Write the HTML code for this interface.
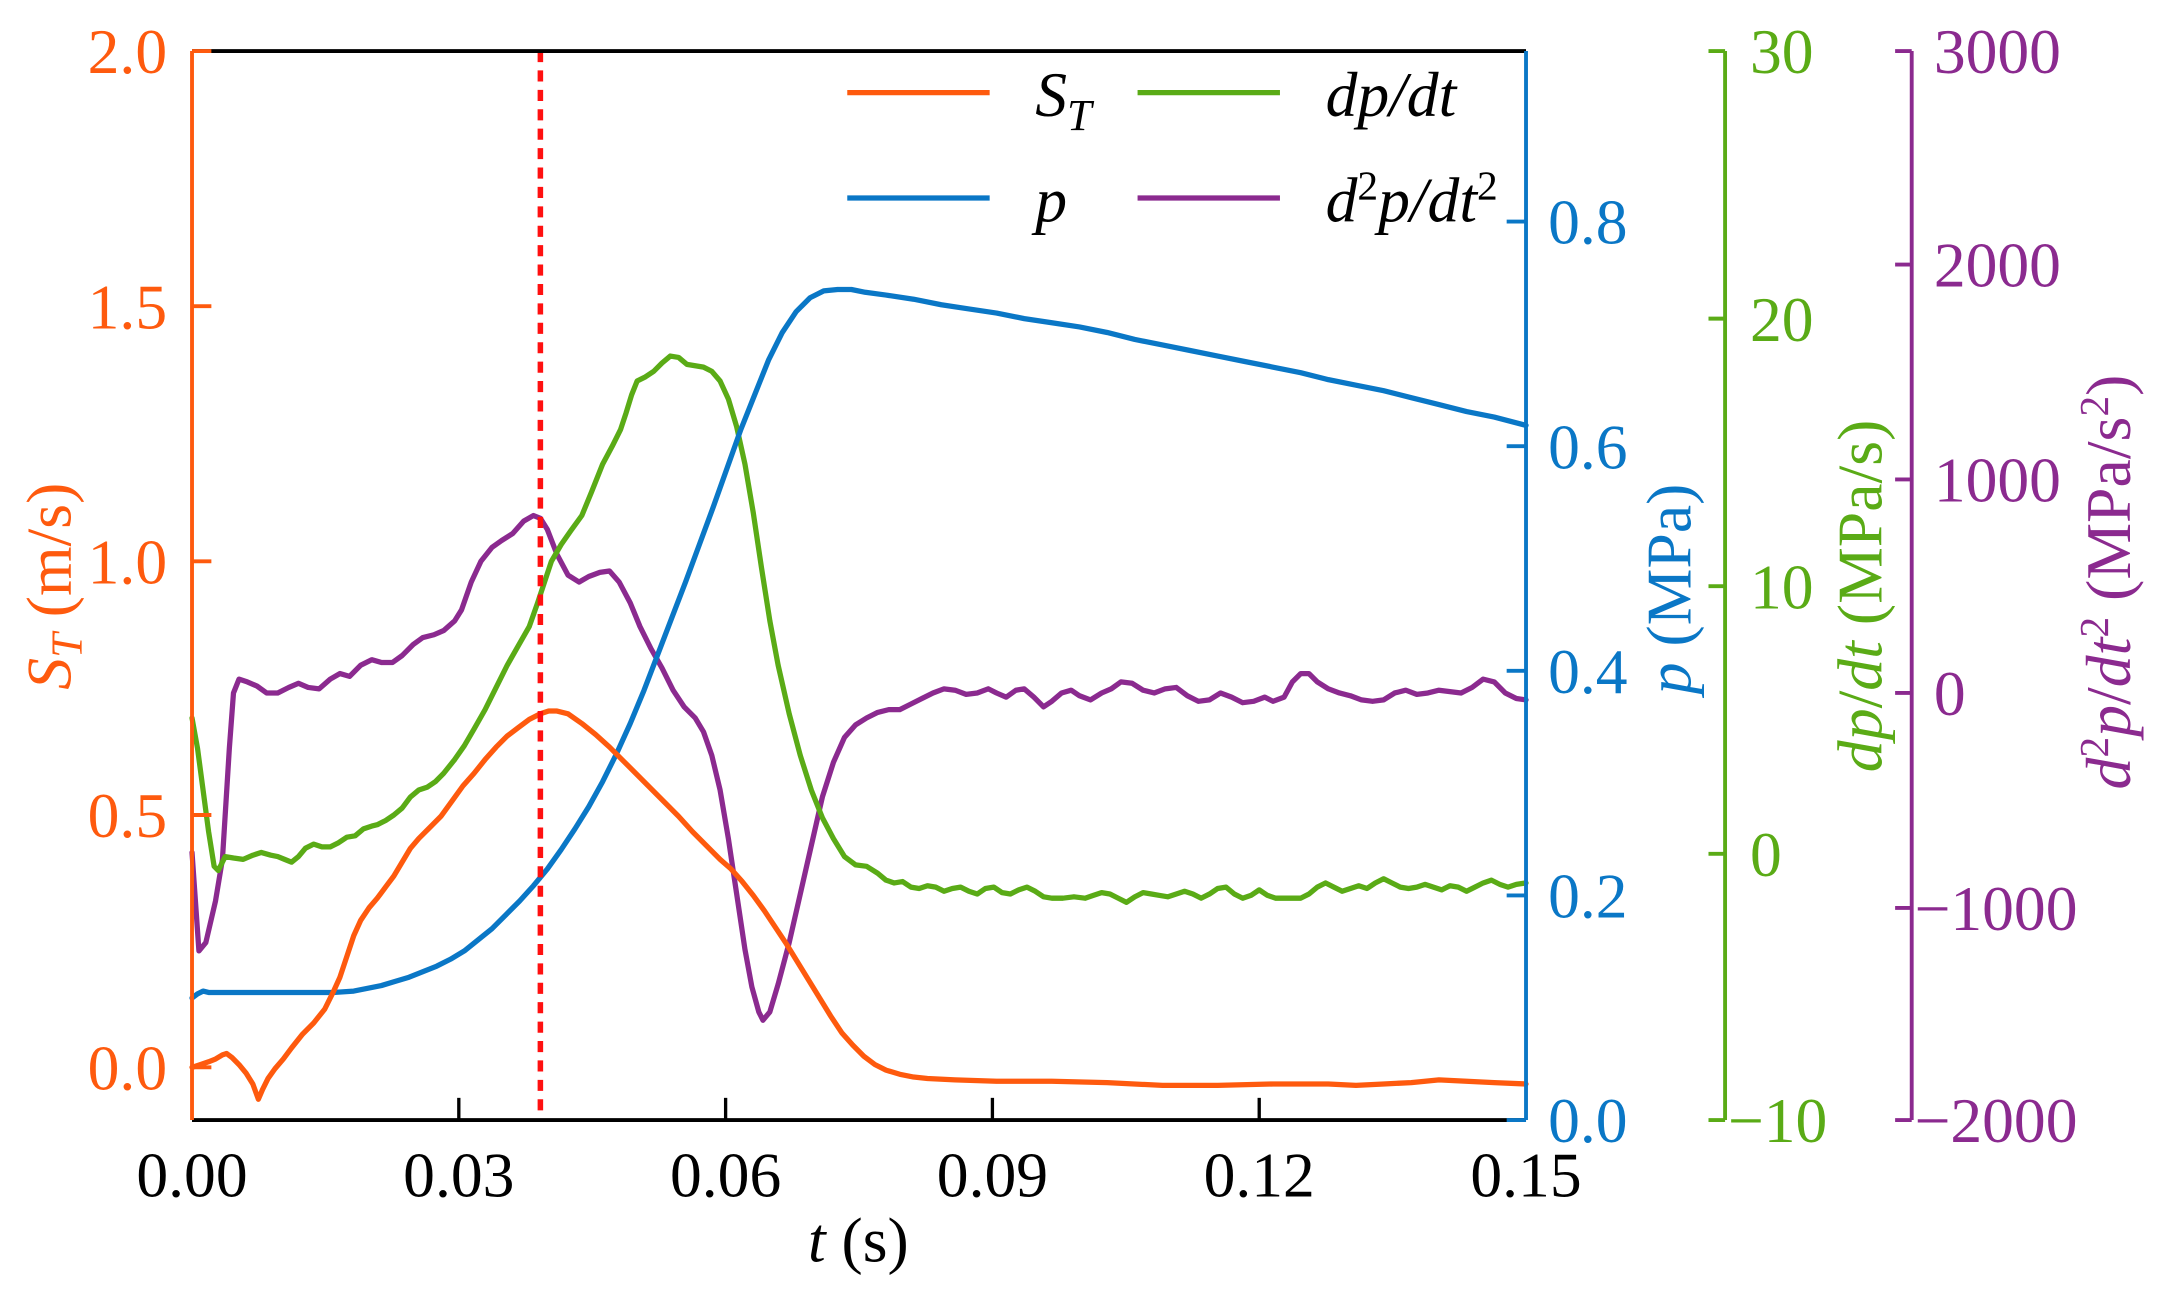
<!DOCTYPE html>
<html><head><meta charset="utf-8"><style>
html,body{margin:0;padding:0;background:#fff;}
svg{display:block;}
svg text{font-family:"Liberation Serif","Times New Roman",serif !important;}
</style></head><body>
<svg width="2168" height="1291" viewBox="-0.9 0.2 1568.3 931.1" preserveAspectRatio="none" xmlns="http://www.w3.org/2000/svg" font-family="Liberation Serif, serif">
<g fill="none" stroke-width="3.8" stroke-linejoin="round" stroke-linecap="round">
<polyline stroke="#8b2a8f" points="138,615 143,686 148,680 155,650 160,620 165,540 168,500 172,490 178,492 185,495 192,500 200,500 208,496 215,493 222,496 230,497 238,490 245,486 252,488 260,480 268,476 275,478 283,478 290,473 298,465 305,460 313,458 320,455 328,448 333,440 340,420 347,405 355,395 362,390 370,385 378,376 385,372 390,374 395,382 402,400 410,415 418,420 425,416 433,413 440,412 447,420 455,435 462,452 470,468 478,482 486,498 494,510 502,518 508,528 514,545 520,570 526,605 532,645 538,685 543,712 548,730 551,736 556,730 562,710 570,680 578,645 586,610 594,575 602,550 610,532 618,523 626,518 634,514 642,512 650,512 658,508 666,504 674,500 682,497 690,498 698,501 706,500 714,497 720,500 727,503 734,498 740,497 747,503 754,510 760,506 767,500 774,498 780,502 788,505 796,500 803,497 810,492 818,493 826,498 834,500 842,497 850,496 858,502 866,506 874,505 882,500 890,503 898,507 906,506 914,503 920,506 928,503 934,492 940,486 946,486 952,492 960,497 968,500 976,502 984,505 992,506 1000,505 1008,500 1016,498 1024,501 1032,500 1040,498 1048,499 1056,500 1064,496 1072,490 1080,492 1088,500 1096,504 1103,505"/>
<polyline stroke="#5aab16" points="138,518 142,540 146,570 150,600 154,625 157,628 162,618 168,619 175,620 182,617 188,615 195,617 200,618 205,620 210,622 215,618 220,612 226,609 232,611 238,611 244,608 250,604 256,603 262,598 268,596 272,595 278,592 284,588 290,583 296,575 302,570 308,568 314,564 320,558 328,548 335,538 342,526 350,512 358,496 366,480 374,466 382,452 388,435 393,420 398,405 405,393 412,383 420,372 427,355 435,335 442,322 448,310 452,298 456,285 460,275 466,272 472,268 478,262 484,257 490,258 496,263 502,264 508,265 514,268 520,275 526,288 532,308 538,335 544,370 550,410 556,448 562,480 570,515 578,545 586,570 594,590 602,605 610,618 618,624 626,625 634,630 640,635 646,637 652,636 658,640 664,641 670,639 676,640 682,643 688,641 694,640 700,643 706,645 712,641 718,640 724,644 730,645 736,642 742,640 748,643 754,647 760,648 768,648 776,647 784,648 790,646 796,644 802,645 808,648 814,651 820,647 826,644 832,645 838,646 844,647 850,645 856,643 862,645 868,648 874,645 880,641 886,640 892,645 898,648 904,646 910,642 916,646 922,648 928,648 934,648 940,648 946,645 952,640 958,637 964,640 970,643 976,641 982,639 988,641 994,637 1000,634 1006,637 1012,640 1018,641 1024,640 1030,638 1036,640 1042,642 1048,639 1054,640 1060,643 1066,640 1072,637 1078,635 1084,638 1090,640 1096,638 1103,637"/>
<polyline stroke="#0a77c6" points="138,720 142,717 146,715 150,716 160,716 180,716 200,716 220,716 240,716 255,715 265,713 275,711 285,708 295,705 305,701 315,697 325,692 335,686 345,678 355,670 365,660 375,650 385,639 395,627 405,613 415,598 425,582 435,564 445,544 455,522 465,498 475,472 485,446 495,420 505,393 515,366 525,338 535,310 545,285 555,260 565,240 575,225 585,215 595,210 605,209 615,209 625,211 640,213 660,216 680,220 700,223 720,226 740,230 760,233 780,236 800,240 820,245 840,249 860,253 880,257 900,261 920,265 940,269 960,274 980,278 1000,282 1020,287 1040,292 1060,297 1080,301 1103,307"/>
<polyline stroke="#fe5a0e" points="138,770 144,768 150,766 155,764 160,761 163,760 167,763 172,768 177,774 182,782 186,793 189,786 193,778 198,771 204,764 210,756 218,746 226,738 234,728 240,716 245,705 250,690 255,675 260,664 266,655 272,648 278,640 284,632 290,622 296,612 302,605 310,597 318,589 326,578 334,567 342,558 350,548 358,539 366,531 374,525 382,519 390,515 396,513 402,513 410,515 420,522 430,530 440,539 450,549 460,559 470,569 480,579 490,589 500,600 510,610 520,620 528,627 536,636 544,646 552,657 560,669 568,681 576,694 584,707 592,720 600,733 608,745 616,754 624,762 632,768 640,772 650,775 660,777 670,778 690,779 720,780 760,780 800,781 840,783 880,783 920,782 960,782 980,783 1000,782 1020,781 1040,779 1060,780 1080,781 1103,782"/>
</g>
<line x1="390" y1="37" x2="390" y2="808" stroke="#ff1010" stroke-width="4" stroke-dasharray="8,6"/>
<line x1="138" y1="37" x2="1103" y2="37" stroke="#000" stroke-width="2.8"/>
<line x1="138" y1="808" x2="1103" y2="808" stroke="#000" stroke-width="2.8"/>
<g stroke="#000" stroke-width="2.4">
<line x1="331" y1="808" x2="331" y2="792"/><line x1="524" y1="808" x2="524" y2="792"/><line x1="717" y1="808" x2="717" y2="792"/><line x1="910" y1="808" x2="910" y2="792"/>
</g>
<g stroke="#fe5a0e" stroke-width="2.8">
<line x1="138" y1="37" x2="138" y2="808"/>
<line x1="138" y1="37" x2="152" y2="37"/><line x1="138" y1="221" x2="152" y2="221"/><line x1="138" y1="405" x2="152" y2="405"/><line x1="138" y1="588" x2="152" y2="588"/><line x1="138" y1="770" x2="152" y2="770"/>
</g>
<g stroke="#0a77c6" stroke-width="2.8">
<line x1="1103" y1="37" x2="1103" y2="808"/>
<line x1="1089" y1="160" x2="1103" y2="160"/><line x1="1089" y1="322" x2="1103" y2="322"/><line x1="1089" y1="484" x2="1103" y2="484"/><line x1="1089" y1="646" x2="1103" y2="646"/><line x1="1089" y1="808" x2="1103" y2="808"/>
</g>
<g stroke="#5aab16" stroke-width="2.8">
<line x1="1247" y1="37" x2="1247" y2="808"/>
<line x1="1235" y1="37" x2="1247" y2="37"/><line x1="1235" y1="230" x2="1247" y2="230"/><line x1="1235" y1="423" x2="1247" y2="423"/><line x1="1235" y1="616" x2="1247" y2="616"/><line x1="1235" y1="808" x2="1247" y2="808"/>
</g>
<g stroke="#8b2a8f" stroke-width="2.8">
<line x1="1382" y1="37" x2="1382" y2="808"/>
<line x1="1370" y1="37" x2="1382" y2="37"/><line x1="1370" y1="191" x2="1382" y2="191"/><line x1="1370" y1="346" x2="1382" y2="346"/><line x1="1370" y1="500" x2="1382" y2="500"/><line x1="1370" y1="655" x2="1382" y2="655"/><line x1="1370" y1="808" x2="1382" y2="808"/>
</g>
<g font-size="46" fill="#000" text-anchor="middle">
<text x="138" y="863">0.00</text><text x="331" y="863">0.03</text><text x="524" y="863">0.06</text><text x="717" y="863">0.09</text><text x="910" y="863">0.12</text><text x="1103" y="863">0.15</text>
</g>
<g font-size="46" fill="#fe5a0e" text-anchor="end">
<text x="120" y="53">2.0</text><text x="120" y="237">1.5</text><text x="120" y="421">1.0</text><text x="120" y="604">0.5</text><text x="120" y="786">0.0</text>
</g>
<g font-size="46" fill="#0a77c6">
<text x="1119" y="176">0.8</text><text x="1119" y="338">0.6</text><text x="1119" y="500">0.4</text><text x="1119" y="662">0.2</text><text x="1119" y="824">0.0</text>
</g>
<g font-size="46" fill="#5aab16">
<text x="1265" y="53">30</text><text x="1265" y="246">20</text><text x="1265" y="439">10</text><text x="1265" y="632">0</text><text x="1249" y="824">−10</text>
</g>
<g font-size="46" fill="#8b2a8f">
<text x="1398" y="53">3000</text><text x="1398" y="207">2000</text><text x="1398" y="362">1000</text><text x="1398" y="516">0</text><text x="1384" y="671">−1000</text><text x="1384" y="824">−2000</text>
</g>
<text x="620" y="910" font-size="46" text-anchor="middle"><tspan font-style="italic">t</tspan> (s)</text>
<text transform="translate(50,423) rotate(-90)" font-size="46" fill="#fe5a0e" text-anchor="middle"><tspan font-style="italic">S</tspan><tspan font-style="italic" font-size="32" dy="8">T</tspan><tspan dy="-8"> (m/s)</tspan></text>
<text transform="translate(1222,425) rotate(-90)" font-size="46" fill="#0a77c6" text-anchor="middle"><tspan font-style="italic">p</tspan> (MPa)</text>
<text transform="translate(1360,430) rotate(-90)" font-size="46" fill="#5aab16" text-anchor="middle"><tspan font-style="italic">dp</tspan>/<tspan font-style="italic">dt</tspan> (MPa/s)</text>
<text transform="translate(1540,420) rotate(-90)" font-size="46" fill="#8b2a8f" text-anchor="middle"><tspan font-style="italic">d</tspan><tspan font-size="30" dy="-16">2</tspan><tspan font-style="italic" dy="16">p</tspan>/<tspan font-style="italic">dt</tspan><tspan font-size="30" dy="-16">2</tspan><tspan dy="16"> (MPa/s</tspan><tspan font-size="30" dy="-16">2</tspan><tspan dy="16">)</tspan></text>
<g stroke-width="3.8">
<line x1="612" y1="67" x2="715" y2="67" stroke="#fe5a0e"/>
<line x1="612" y1="143" x2="715" y2="143" stroke="#0a77c6"/>
<line x1="822" y1="67" x2="925" y2="67" stroke="#5aab16"/>
<line x1="822" y1="143" x2="925" y2="143" stroke="#8b2a8f"/>
</g>
<g font-size="46" font-style="italic" fill="#000">
<text x="748" y="84">S<tspan font-size="32" dy="10">T</tspan></text>
<text x="748" y="160">p</text>
<text x="958" y="84">dp/dt</text>
<text x="958" y="160">d<tspan font-size="30" dy="-16" font-style="normal">2</tspan><tspan dy="16">p/dt</tspan><tspan font-size="30" dy="-16" font-style="normal">2</tspan></text>
</g>
</svg>
</body></html>
